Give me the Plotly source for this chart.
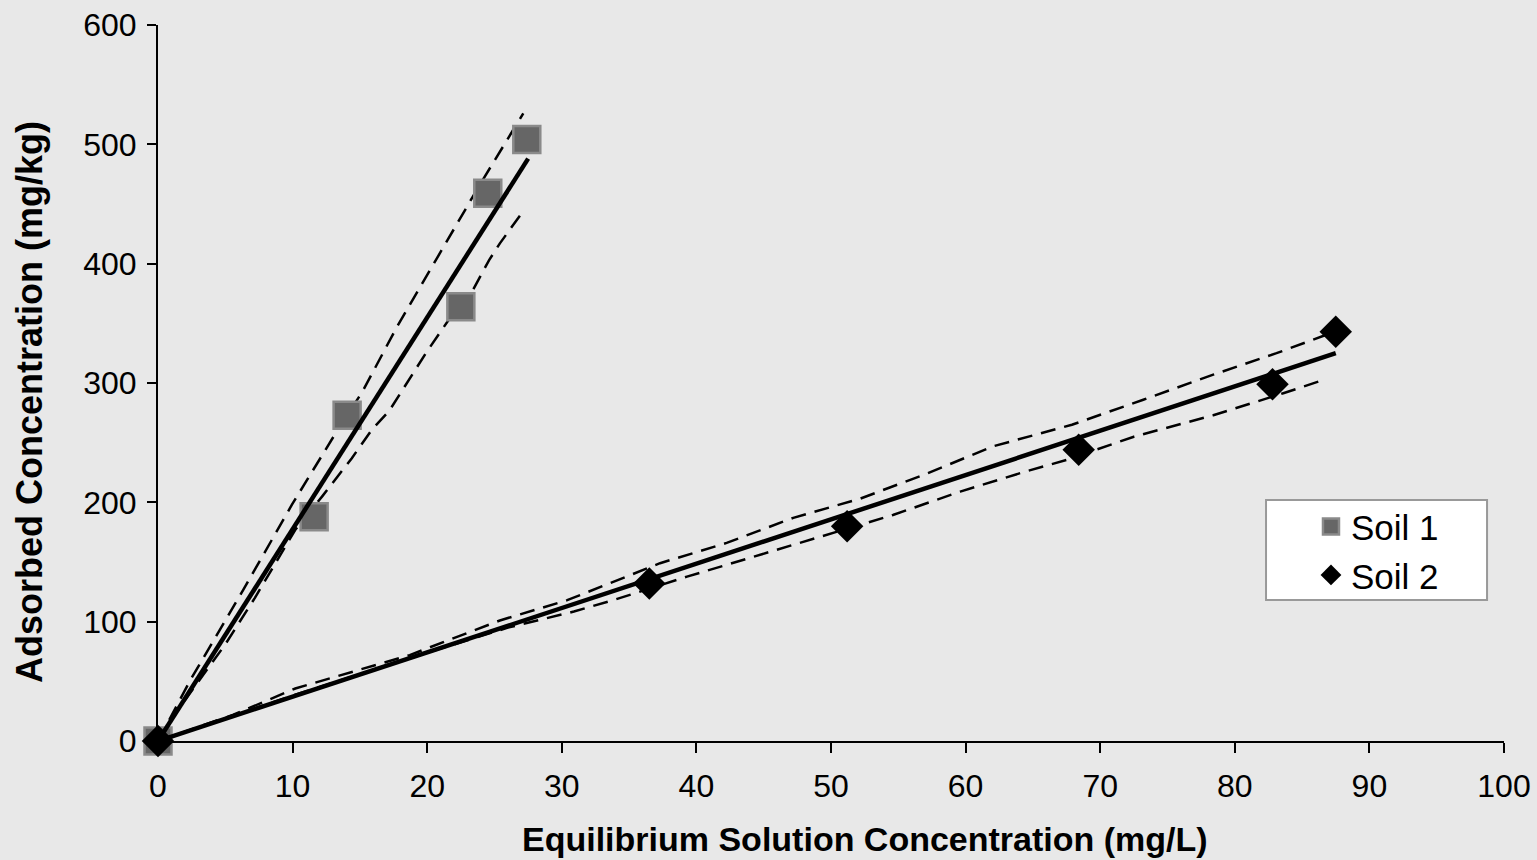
import plotly.graph_objects as go

# ---- data ----
soil1_x = [0, 11.6, 14.05, 22.5, 24.5, 27.4]
soil1_y = [0, 188, 273, 364, 459, 504]
soil2_x = [0, 36.5, 51.2, 68.4, 82.8, 87.5]
soil2_y = [0, 132, 180, 244, 299, 343]

fit1_x = [0, 27.5]
fit1_y = [0, 488]
fit2_x = [0, 87.5]
fit2_y = [0, 325]

s1_upper_x = [0, 2.4, 6.3, 9.95, 13.2, 15.2, 17.7, 21.4, 23.9, 27.14]
s1_upper_y = [0, 51, 126, 198, 258, 293, 346, 417, 466, 526]
s1_lower_x = [0, 1.6, 5.0, 7.2, 10.2, 12.2, 14.4, 15.9, 17.2, 19.9, 21.6, 23.4, 24.6, 25.4, 27.0]
s1_lower_y = [0, 28, 81, 120, 177, 205, 237, 261, 277, 325, 353, 378, 403, 417, 442]

s2_upper_x = [0, 5.6, 10.2, 18.7, 25.4, 30.4, 33.3, 37.3, 42.25, 47.2, 52.15, 57.1, 62.06, 67.9, 73.2, 78.4, 83.1, 86.7]
s2_upper_y = [0, 22, 44, 72, 101, 118, 131, 149, 166, 187, 203, 224, 247, 265, 286, 307, 325, 340]
s2_lower_x = [0, 10, 20, 26, 30.9, 33.8, 39.3, 44.7, 49.7, 54.6, 59.6, 64.5, 67.5, 72.5, 78.4, 83.6, 86.8]
s2_lower_y = [0, 38, 74, 95, 108.5, 118, 137.7, 156, 172.6, 189.4, 209, 226, 235.5, 255, 273, 291.4, 303.4]

x_ticks = [0, 10, 20, 30, 40, 50, 60, 70, 80, 90, 100]
y_ticks = [0, 100, 200, 300, 400, 500, 600]

FONT = "Liberation Sans, Arial, sans-serif"
BG = "#e8e8e8"
DASH = "15px,9px"

fig = go.Figure()

for xs, ys in [(s1_upper_x, s1_upper_y), (s1_lower_x, s1_lower_y),
               (s2_upper_x, s2_upper_y), (s2_lower_x, s2_lower_y)]:
    fig.add_trace(go.Scatter(x=xs, y=ys, mode="lines", showlegend=False, hoverinfo="skip",
                             line=dict(color="black", width=2.5, dash=DASH)))

fig.add_trace(go.Scatter(x=soil1_x, y=soil1_y, mode="markers", name="Soil 1", cliponaxis=False,
                         marker=dict(symbol="square", size=27, color="#666666",
                                     line=dict(color="#8a8a8a", width=2.5))))
fig.add_trace(go.Scatter(x=fit1_x, y=fit1_y, mode="lines", showlegend=False, hoverinfo="skip",
                         line=dict(color="black", width=4.5)))
fig.add_trace(go.Scatter(x=fit2_x, y=fit2_y, mode="lines", showlegend=False, hoverinfo="skip",
                         line=dict(color="black", width=4.5)))
fig.add_trace(go.Scatter(x=soil2_x, y=soil2_y, mode="markers", name="Soil 2", cliponaxis=False,
                         marker=dict(symbol="diamond", size=25, color="black",
                                     line=dict(color="black", width=0))))

fig.update_layout(
    width=1537, height=860,
    margin=dict(l=158, r=33, t=25, b=119),
    paper_bgcolor=BG, plot_bgcolor=BG,
    font=dict(family=FONT, size=32, color="black"),
    xaxis=dict(range=[0, 100], tickvals=x_ticks, ticks="outside", ticklen=10, tickwidth=2,
               tickcolor="black", showline=True, linecolor="black", linewidth=2,
               showgrid=False, zeroline=False, tickfont=dict(size=32),
               ticklabelstandoff=6, automargin=False),
    yaxis=dict(range=[0, 600], tickvals=y_ticks, ticks="outside", ticklen=9, tickwidth=2,
               tickcolor="black", showline=True, linecolor="black", linewidth=2,
               showgrid=False, zeroline=False, tickfont=dict(size=32),
               ticklabelstandoff=4, automargin=False),
    legend=dict(x=0.8566, y=0.3405, xanchor="left", yanchor="top",
                bgcolor="rgba(0,0,0,0)", borderwidth=0,
                font=dict(family=FONT, size=35, color="black")),
    shapes=[dict(type="rect", xref="paper", yref="paper",
                 x0=0.8232, x1=0.9874, y0=0.1969, y1=0.3366,
                 fillcolor="white", line=dict(color="#999999", width=2), layer="above")],
    annotations=[
        dict(text="<b>Equilibrium Solution Concentration (mg/L)</b>", xref="paper", yref="paper",
             x=0.5253, y=-0.1369, xanchor="center", yanchor="middle", showarrow=False,
             font=dict(family=FONT, size=34)),
        dict(text="<b>Adsorbed Concentration (mg/kg)</b>", xref="paper", yref="paper",
             x=-0.0951, y=0.4735, xanchor="center", yanchor="middle", showarrow=False,
             textangle=-90, font=dict(family=FONT, size=36)),
    ],
)

fig.write_html("out.html")
